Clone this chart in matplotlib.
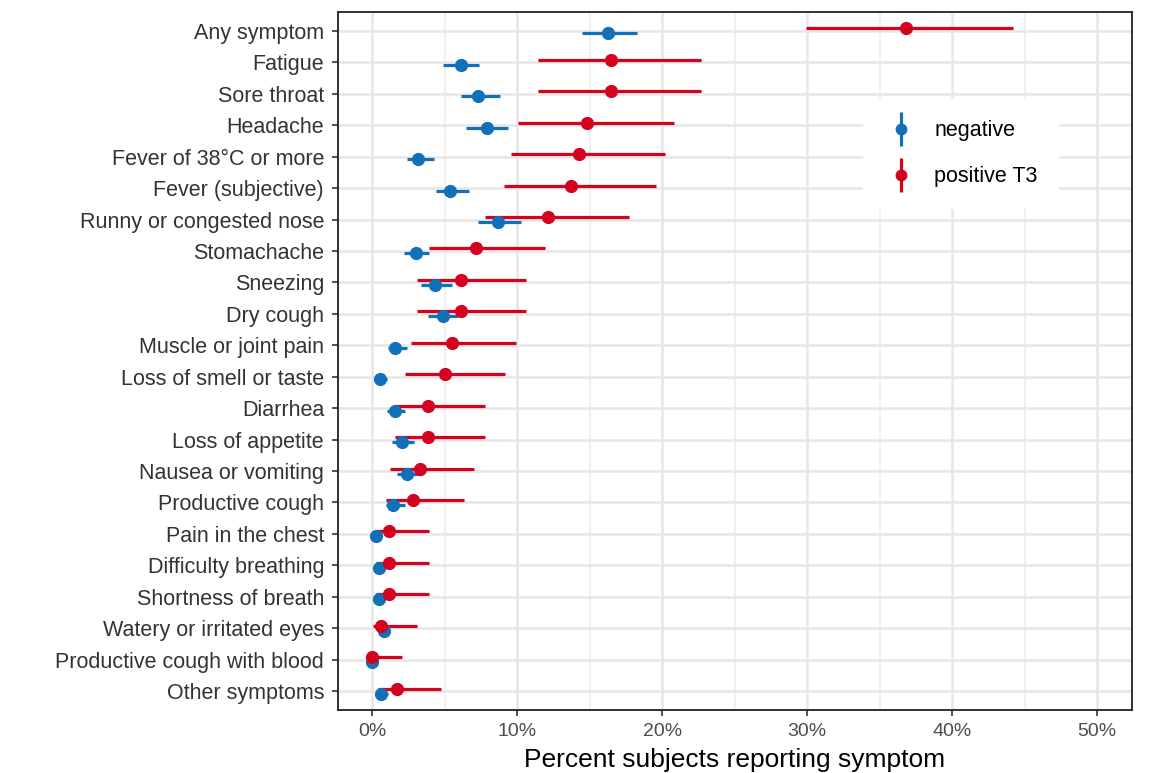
import matplotlib.pyplot as plt
import numpy as np
from matplotlib.lines import Line2D
from matplotlib.legend_handler import HandlerTuple
from matplotlib.ticker import MultipleLocator, PercentFormatter

plt.rcParams['font.family'] = ['Liberation Sans', 'DejaVu Sans']

symptoms = ['Any symptom', 'Fatigue', 'Sore throat', 'Headache', 'Fever of 38°C or more',
            'Fever (subjective)', 'Runny or congested nose', 'Stomachache', 'Sneezing',
            'Dry cough', 'Muscle or joint pain', 'Loss of smell or taste', 'Diarrhea',
            'Loss of appetite', 'Nausea or vomiting', 'Productive cough', 'Pain in the chest',
            'Difficulty breathing', 'Shortness of breath', 'Watery or irritated eyes',
            'Productive cough with blood', 'Other symptoms']

# negative (percent)
neg = [16.3, 6.1, 7.3, 7.9, 3.2, 5.4, 8.7, 3.0, 4.35, 4.9, 1.6, 0.55, 1.55,
       2.05, 2.4, 1.45, 0.25, 0.45, 0.45, 0.8, 0.0, 0.6]
neg_lo = [14.5, 4.9, 6.1, 6.5, 2.4, 4.4, 7.3, 2.2, 3.4, 3.85, 1.1, 0.2, 1.05,
          1.4, 1.7, 0.95, 0.1, 0.25, 0.25, 0.4, 0.0, 0.3]
neg_hi = [18.3, 7.4, 8.8, 9.4, 4.3, 6.7, 10.25, 3.9, 5.5, 5.95, 2.4, 1.05, 2.3,
          2.9, 3.25, 2.25, 0.5, 0.75, 0.75, 1.1, 0.1, 1.1]

# positive T3 (percent)
pos = [36.8, 16.5, 16.5, 14.8, 14.3, 13.75, 12.1, 7.15, 6.1, 6.1, 5.5, 5.0, 3.85,
       3.85, 3.3, 2.8, 1.15, 1.15, 1.15, 0.6, 0.0, 1.7]
pos_lo = [29.9, 11.45, 11.45, 10.05, 9.6, 9.1, 7.8, 3.9, 3.1, 3.1, 2.7, 2.3, 1.6,
          1.6, 1.25, 0.95, 0.3, 0.3, 0.3, 0.05, 0.0, 0.4]
pos_hi = [44.2, 22.7, 22.7, 20.8, 20.2, 19.6, 17.75, 11.9, 10.6, 10.6, 9.9, 9.2, 7.8,
          7.8, 7.05, 6.35, 3.95, 3.95, 3.95, 3.1, 2.05, 4.75]

blue = '#1170b8'
red = '#d4021e'

fig = plt.figure(figsize=(11.59, 7.73), dpi=100)
ax = fig.add_axes([0.2916, 0.0815, 0.6851, 0.903])

y = np.arange(len(symptoms))
dodge = 0.08

for vals, lo, hi, off, col in [(neg, neg_lo, neg_hi, dodge, blue),
                               (pos, pos_lo, pos_hi, -dodge, red)]:
    ax.hlines(y + off, lo, hi, color=col, lw=2.3, zorder=3)
    ax.plot(vals, y + off, 'o', color=col, ms=8.5, zorder=4)

ax.set_yticks(y)
ax.set_yticklabels(symptoms, fontsize=15.5, color='#333333')
ax.set_ylim(len(symptoms) - 0.4, -0.6)
ax.set_xlim(-2.35, 52.4)
ax.xaxis.set_major_locator(MultipleLocator(10))
ax.xaxis.set_minor_locator(MultipleLocator(5))
ax.xaxis.set_major_formatter(PercentFormatter(decimals=0))
ax.tick_params(axis='x', labelsize=14, labelcolor='#4d4d4d', length=4, width=1.2, color='#333333', pad=5)
ax.tick_params(axis='x', which='minor', length=0)
ax.tick_params(axis='y', length=4, width=1.2, color='#333333', pad=6)
ax.set_xlabel('Percent subjects reporting symptom', fontsize=19, labelpad=6)

ax.grid(which='major', color='#e6e6e6', lw=1.8, zorder=0)
ax.grid(which='minor', axis='x', color='#eeeeee', lw=1.2, zorder=0)
ax.set_axisbelow(True)
for s in ax.spines.values():
    s.set_color('#222222')
    s.set_linewidth(1.3)

handles = []
for col in [blue, red]:
    v = Line2D([], [], color=col, marker='|', ms=24, mew=2.3, ls='none')
    d = Line2D([], [], color=col, marker='o', ms=7.5, ls='none')
    handles.append((v, d))
leg = ax.legend(handles, ['negative', 'positive T3'], handler_map={tuple: HandlerTuple(ndivide=1)},
                loc='center', bbox_to_anchor=(0.785, 0.797), frameon=True, fontsize=15.5,
                labelspacing=1.15, handlelength=1.5, handletextpad=0.8, borderpad=1.0)
leg.get_frame().set_edgecolor('none')
leg.get_frame().set_facecolor('white')
leg.get_frame().set_alpha(1)

fig.savefig('out.png', dpi=100)
